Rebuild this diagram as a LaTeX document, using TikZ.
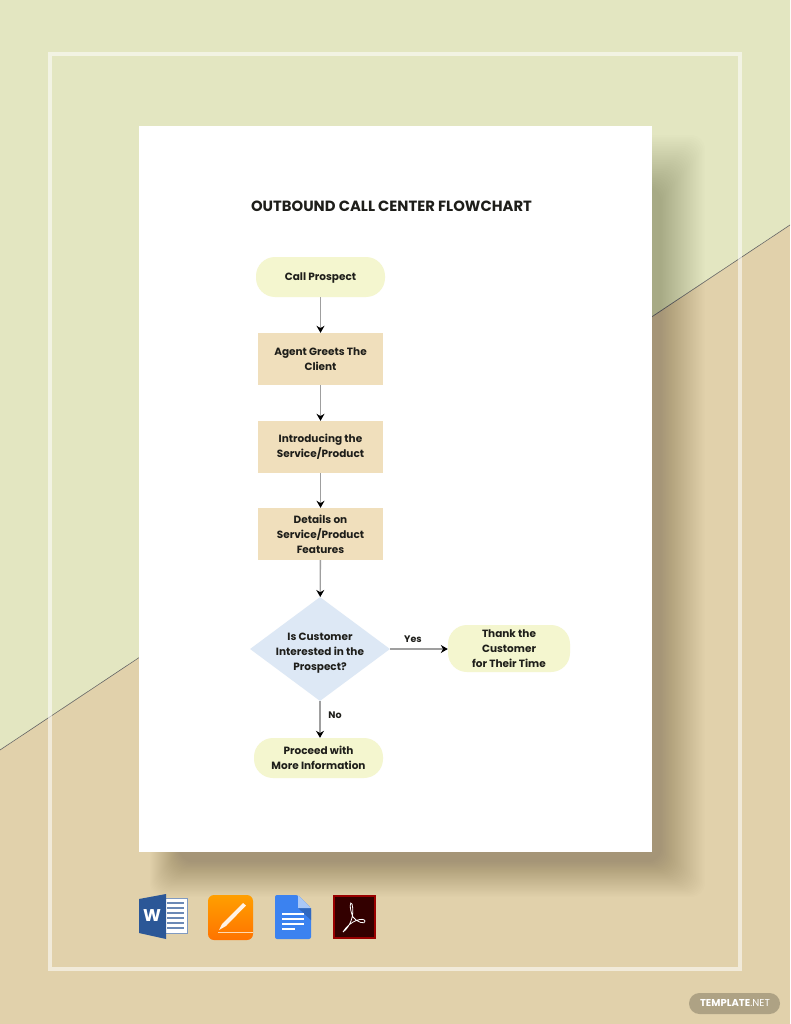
\documentclass[tikz,border=0pt]{standalone}
\usepackage{fontspec}
\setmainfont{Poppins}
\usetikzlibrary{arrows.meta,shapes.geometric}
\definecolor{bggreen}{HTML}{E3E6C1}
\definecolor{bgtan}{HTML}{E1D1AB}
\definecolor{termfill}{HTML}{F4F6CF}
\definecolor{stepfill}{HTML}{F0DFBC}
\definecolor{askfill}{HTML}{DDE8F5}
\definecolor{inktext}{HTML}{1E1E1A}
\definecolor{wordblue}{HTML}{2B5797}
\definecolor{docsblue}{HTML}{3B82F0}
\definecolor{docsfold}{HTML}{A9C8F7}
\tikzset{
	basebox/.style={align=center,inner sep=0pt,text=inktext,font=\fontsize{10.5}{15}\selectfont\bfseries},
	termbox/.style={basebox,fill=termfill,rounded corners=19pt},
	stepbox/.style={basebox,fill=stepfill,minimum width=125pt,minimum height=52pt},
	askbox/.style={basebox,fill=askfill,diamond,aspect=1.346,inner sep=-4.7pt,minimum width=140pt,minimum height=104pt},
	flow/.style={draw=gray!75,line width=1.3pt,-{Stealth[black,length=7pt,width=8pt]}},
	flowlabel/.style={text=inktext,font=\fontsize{9.5}{12}\selectfont\bfseries,inner sep=0pt},
}
\begin{document}
\begin{tikzpicture}[x=1pt,y=-1pt]
\useasboundingbox (0,0) rectangle (790,1024);
\clip (0,0) rectangle (790,1024);
% background
\fill [bgtan] (0,0) rectangle (790,1024);
\fill [bggreen] (0,0) -- (790,0) -- (790,225) -- (0,750) -- cycle;
\draw [black!60,line width=0.6pt] (0,750) -- (790,225);
% frame
\draw [white,opacity=0.55,line width=3.5pt] (50,54) rectangle (740,969);
% sheet and its shadow
\foreach \i in {0,...,29}
	\fill [black,opacity=0.0095,rounded corners=14pt] (150+\i,135+\i*1.8) rectangle (705-\i*1.5,897-\i*1.2);
\fill [white] (139,126) rectangle (652,852);
\node (title) [text=inktext,inner sep=0pt,font=\fontsize{14.8}{16}\selectfont\bfseries] at (391.5,206) {OUTBOUND CALL CENTER FLOWCHART};
% flow
\node (call) [termbox,minimum width=129pt,minimum height=40pt,text height=7.5pt,text depth=0pt] at (320.5,277) {Call Prospect};
\node (greet) [stepbox] at (320.5,359) {Agent Greets The\\Client};
\node (intro) [stepbox] at (320.5,447) {Introducing the\\Service/Product};
\node (details) [stepbox] at (320.5,534) {Details on\\Service/Product\\Features};
\node (ask) [askbox] at (320,649) {\rule{0pt}{16pt}Is Customer\\Interested in the\\Prospect?};
\node (thank) [termbox,minimum width=122pt,minimum height=47pt] at (509,648.5) {Thank the\\Customer\\for Their Time};
\node (proceed) [termbox,minimum width=129pt,minimum height=40pt] at (318.5,758) {Proceed with\\More Information};
\draw [flow] (call) -- (greet);
\draw [flow] (greet) -- (intro);
\draw [flow] (intro) -- (details);
\draw [flow] (details) -- (ask);
\draw [flow] (ask) -- (ask -| thank.west);
\draw [flow] (ask.south) -- (ask.south |- proceed.north);
\node (yes) [flowlabel] at (413,639) {Yes};
\node (no) [flowlabel] at (335,715) {No};
% word icon
\fill [white,draw=wordblue!60,line width=0.8pt] (163,898) rectangle (187,933);
\foreach \y in {903,908,913,918,923,928}
	\draw [wordblue!70,line width=1.1pt] (167,\y) -- (184,\y);
\fill [wordblue] (139,899) -- (166,894) -- (166,939) -- (139,933) -- cycle;
\node (wordw) [white,inner sep=0pt,font=\fontsize{17}{17}\selectfont\bfseries] at (152,916) {W};
% pages icon
\shade [top color=orange!75!yellow,bottom color=orange!90!red,rounded corners=6pt] (208,895) rectangle (253,940);
\fill [white!90!orange] (243,903) -- (246,905.5) -- (226,926) -- (219,930) -- (222,924) -- cycle;
\draw [white!70!orange,line width=1pt] (218,932.5) -- (253,932.5);
% docs icon
\fill [docsblue,rounded corners=2pt] (275,895) -- (298,895) -- (311,908) -- (311,939) -- (275,939) -- cycle;
\fill [docsblue!80!black] (298,908) -- (311,908) -- (311,920) -- cycle;
\fill [docsfold] (298,895) -- (311,908) -- (298,908) -- cycle;
\foreach \y in {914,919,924}
	\draw [white,line width=1.2pt] (282,\y) -- (304,\y);
\draw [white,line width=1.2pt] (282,929) -- (295,929);
% pdf icon
\fill [black!80!red,draw=red!60!black,line width=1.6pt] (334,896) rectangle (375,938);
\draw [white,line width=0.8pt] (343,932) .. controls (350,927) and (355,915) .. (352,904) .. controls (350,900) and (349,908) .. (353,917) .. controls (356,922) and (366,925) .. (365,921) .. controls (364,917) and (350,920) .. (343,932);
% badge
\fill [black!50!bgtan,opacity=0.45,rounded corners=10.5pt] (689,993) rectangle (780,1014);
\node (badge) [white,inner sep=0pt,font=\fontsize{10}{12}\selectfont] at (735,1003.5) {\textbf{TEMPLATE}.NET};
\end{tikzpicture}
\end{document}
